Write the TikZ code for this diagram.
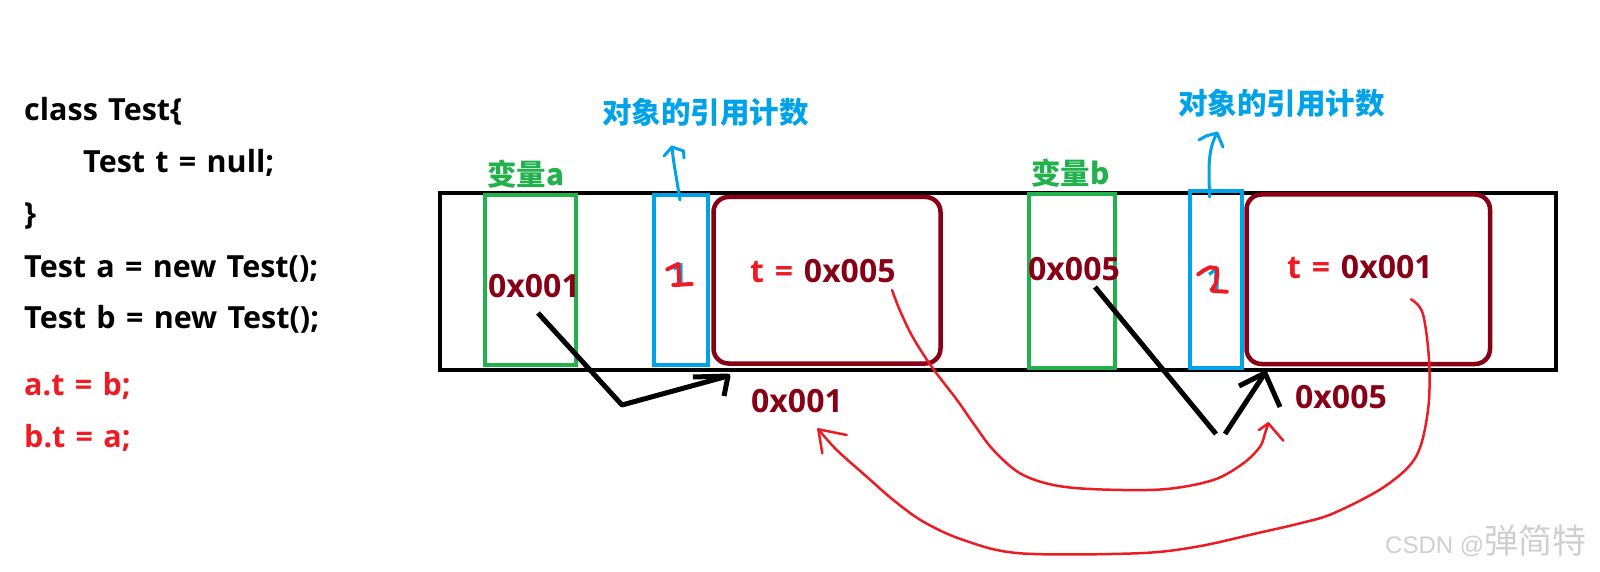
\documentclass[tikz,border=0pt]{standalone}
\usepackage{fontspec}
\setmainfont{Open Sans}[WordSpace=1.3]
\newfontfamily\cjk{Noto Sans CJK SC}
\newfontfamily\wmlat{Liberation Sans}
\usetikzlibrary{arrows.meta}
\definecolor{pred}{HTML}{ED1C24}
\definecolor{dred}{HTML}{880015}
\definecolor{pgreen}{HTML}{22B14C}
\definecolor{pblue}{HTML}{00A2E8}
\definecolor{wmgray}{HTML}{CFCFCF}
\begin{document}
\begin{tikzpicture}[x=1pt,y=-1pt,
  code/.style={font=\fontsize{30.5}{36}\selectfont\bfseries, anchor=base west, inner sep=0pt},
  addr/.style={font=\fontsize{32}{38}\selectfont\bfseries, text=dred, anchor=base west, inner sep=0pt},
  cn/.style={font=\cjk\fontsize{29.5}{34}\selectfont\bfseries, anchor=west, inner sep=0pt},
  box/.style={draw, line width=4pt, inner sep=0pt, outer sep=0pt},
  hand/.style={line width=4pt, line cap=round, line join=round},
  thin/.style={pred, line width=2.5pt, line cap=round, line join=round},
  blk/.style={black, line width=5pt, line join=round},
  blu/.style={pblue, line width=3pt, line cap=round, line join=round}]
\useasboundingbox (0,0) rectangle (1600,572);

% code
\node[code] (c1) at (24,121) {class Test\{};
\node[code] (c2) at (83,173) {Test t = null;};
\node[code] (c3) at (24,224) {\}};
\node[code] (c4) at (24,277) {Test a = new Test();};
\node[code] (c5) at (24,328) {Test b = new Test();};
\node[code, text=pred] (c6) at (24,395) {a.t = b;};
\node[code, text=pred] (c7) at (24,447) {b.t = a;};

% memory
\node[box, line width=4.5pt, minimum width=1116, minimum height=177] (mem) at (998,281.5) {};
\node[box, draw=pgreen, minimum width=91, minimum height=170] (ga) at (530.5,280) {};
\node[box, draw=pblue, minimum width=54.5, minimum height=170] (ba) at (680.75,280) {};
\node[box, draw=dred, line width=4.5pt, rounded corners=15pt, minimum width=227, minimum height=166.5] (ra) at (827,280.25) {};
\node[box, draw=pgreen, minimum width=86, minimum height=173.5] (gb) at (1072,281.25) {};
\node[box, draw=pblue, minimum width=52.5, minimum height=177] (bb) at (1215.75,279.5) {};
\node[box, draw=dred, line width=4.5pt, rounded corners=15pt, minimum width=243.5, minimum height=169.5] (rb) at (1368.25,279.25) {};

% labels
\node[cn, text=pgreen] (la) at (487,174.5) {变量a};
\node[cn, text=pgreen] (lb) at (1031,173) {变量b};
\node[cn, text=pblue] (ra1) at (602,112.5) {对象的引用计数};
\node[cn, text=pblue] (ra2) at (1178,103) {对象的引用计数};

\node[addr] (va) at (488,297) {0x001};
\node[addr] (ta) at (750,282) {\textcolor{pred}{t =} 0x005};
\node[addr] (aa) at (751,412) {0x001};
\node[addr] (vb) at (1028,280) {0x005};
\node[addr] (tb) at (1287,278) {\textcolor{pred}{t =} 0x001};
\node[addr] (ab) at (1295,408) {0x005};

% reference counts
\node[font=\fontsize{28}{32}\selectfont\bfseries, text=pblue, anchor=base, inner sep=0pt] (na) at (679,283) {1};
\node[font=\fontsize{30}{34}\selectfont\bfseries, text=pblue, anchor=base, inner sep=0pt] (nb) at (1215,289) {1};
\draw[pred, hand] (667.3,269.3) -- (678.3,264) -- (679.3,285) (673.3,285) -- (691.7,284);
\draw[pred, hand] (1198.3,274.3) -- (1203.3,270.7) -- (1210,267.3) -- (1216.7,268.3) -- (1217.3,273.3) -- (1216,283.3) -- (1211.7,290) (1213.3,291) -- (1226.7,291.7);

% blue arrows
\coordinate (bas) at (680,200);
\coordinate (bat) at (672,147);
\draw[blu] (bas) .. controls (676,175) and (673,160) .. (bat);
\draw[blu] (664,156) -- (bat) -- (683.5,151) -- (684,158);
\coordinate (bbs) at (1209.6,197);
\coordinate (bbt) at (1217,133);
\draw[blu] (bbs) .. controls (1208.5,165) and (1208,150) .. (bbt);
\draw[blu] (1199,140) -- (1206,136) -- (bbt) -- (1223,147);

% black arrows
\coordinate (ka0) at (538,313);
\coordinate (ka1) at (622,405);
\coordinate (ka2) at (728,376);
\draw[blk] (ka0) -- (ka1) -- (ka2);
\draw[blk] (693,377) -- (ka2) -- (724,396);
\coordinate (kb0) at (1095,287);
\coordinate (kb1) at (1216,434);
\coordinate (kb2) at (1225,434);
\coordinate (kb3) at (1265,373);
\draw[blk] (kb0) -- (kb1);
\draw[blk] (kb2) -- (kb3);
\draw[blk] (1239,386) -- (kb3) -- (1280,407);

% red curves
\coordinate (r1s) at (892,290);
\coordinate (r1e) at (1268.3,423.3);
\draw[thin] plot[smooth, tension=0.55] coordinates {(r1s) (899.7,310) (912.5,336.7) (931.6,366.7) (957,400) (973.3,423.3) (993.3,450) (1020,473.3) (1053.3,485) (1096.7,489.3) (1163.3,489.3) (1213.3,480) (1243.3,463.3) (1260,446.7) (1265,433.3) (r1e)};
\draw[thin] (1259,430) -- (r1e) -- (1283.3,440.7);
\coordinate (r2s) at (1411,299.3);
\coordinate (r2e) at (818.3,429.3);
\draw[thin] plot[smooth, tension=0.55] coordinates {(r2s) (1422.7,313.3) (1429,360) (1428,410) (1416,456.7) (1384.4,486.7) (1333.4,513.3) (1300,523.3) (1256.7,533.3) (1196.7,546.7) (1136.7,553.3) (1020,553.3) (963.3,540) (923.3,521.7) (893.3,500) (866.7,476.7) (836.7,450) (r2e)};
\draw[thin] (846.7,435) -- (r2e) -- (822.3,453.3);

% watermark
\node[anchor=base west, inner sep=0pt, text=wmgray] (wm) at (1385,553) {\wmlat\fontsize{24}{28}\selectfont CSDN @\cjk\fontsize{34}{38}\selectfont 弹简特};
\end{tikzpicture}
\end{document}
